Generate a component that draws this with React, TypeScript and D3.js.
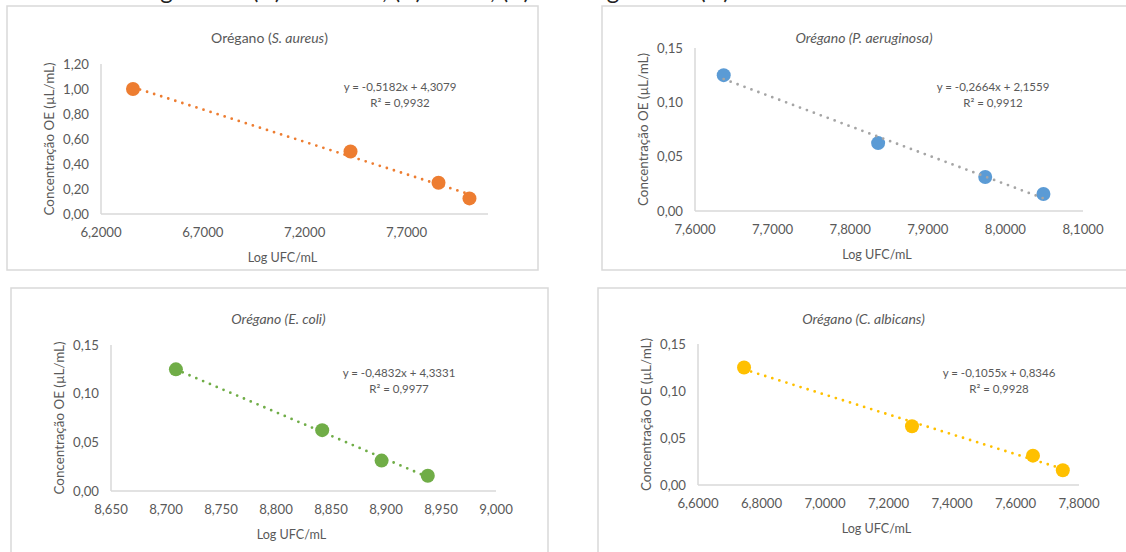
import React from 'react';
import * as d3 from 'd3';

// Log UFC/mL (x) and concentração do óleo essencial (y) per organism
const sAureusLogUfc = [6.357, 7.425, 7.857, 8.009];
const sAureusConc = [1.0, 0.5, 0.25, 0.125];
const pAeruginosaLogUfc = [7.637, 7.836, 7.974, 8.049];
const pAeruginosaConc = [0.125, 0.0625, 0.03125, 0.015625];
const eColiLogUfc = [8.709, 8.842, 8.896, 8.938];
const eColiConc = [0.125, 0.0625, 0.03125, 0.015625];
const cAlbicansLogUfc = [6.745, 7.274, 7.655, 7.749];
const cAlbicansConc = [0.125, 0.0625, 0.03125, 0.015625];

// trendline equations shown on each chart
const slopes = [-0.5182, -0.2664, -0.4832, -0.1055];
const intercepts = [4.3079, 2.1559, 4.3331, 0.8346];
const rSquared = [0.9932, 0.9912, 0.9977, 0.9928];

// axes
const xDomains: [number, number][] = [[6.2, 8.1], [7.6, 8.1], [8.65, 9.0], [6.6, 7.8]];
const xTicksAureus = [6.2, 6.7, 7.2, 7.7];
const xTicksAeruginosa = [7.6, 7.7, 7.8, 7.9, 8.0, 8.1];
const xTicksColi = [8.65, 8.7, 8.75, 8.8, 8.85, 8.9, 8.95, 9.0];
const xTicksAlbicans = [6.6, 6.8, 7.0, 7.2, 7.4, 7.6, 7.8];
const yTicksAureus = [0, 0.2, 0.4, 0.6, 0.8, 1.0, 1.2];
const yTicksSmall = [0, 0.05, 0.1, 0.15];

const species = ['S. aureus', 'P. aeruginosa', 'E. coli', 'C. albicans'];
const caption = 'Figura 1 – Curvas de regressão:';
const captionTail = '(A) S. aureus, (B) E. coli, (C) P. aeruginosa e (D) C. albicans';

const ptBR = d3.formatLocale({ decimal: ',', thousands: '.', grouping: [3], currency: ['R$', ''], minus: '-' });
const f4 = ptBR.format('.4f');
const f3 = ptBR.format('.3f');
const f2 = ptBR.format('.2f');

const FONT = "Lato, 'Open Sans', sans-serif";
const TEXT = '#595959';
const AXIS = '#D9D9D9';

interface PanelProps {
  box: [number, number, number, number];
  plot: { left: number; right: number; top: number; bottom: number };
  xs: number[];
  ys: number[];
  xTicks: number[];
  yTicks: number[];
  xFmt: (n: number) => string;
  idx: number;
  color: string;
  trendColor: string;
  titleItalic: boolean;
  titleY: number;
  eqPos: [number, number];
}

const Panel: React.FC<PanelProps> = ({ box, plot, xs, ys, xTicks, yTicks, xFmt, idx, color, trendColor, titleItalic, titleY, eqPos }) => {
  const x = d3.scaleLinear().domain(xDomains[idx]).range([plot.left, plot.right]);
  const y = d3.scaleLinear().domain([yTicks[0], yTicks[yTicks.length - 1]]).range([plot.bottom, plot.top]);
  const [bx, by, bw, bh] = box;
  const cx = (plot.left + plot.right) / 2;
  const midY = (plot.top + plot.bottom) / 2;

  const x0 = d3.min(xs) as number;
  const x1 = d3.max(xs) as number;
  const trend = d3.line<number>()
    .x(d => x(d))
    .y(d => y(slopes[idx] * d + intercepts[idx]));

  const pts = xs.map((v, i) => ({ x: v, y: ys[i] }));

  return (
    <g>
      <rect x={bx} y={by} width={bw} height={bh} fill="#fff" stroke={AXIS} strokeWidth={1.5} />
      <text x={cx - 25} y={titleY} textAnchor="middle" fontSize={14} fill={TEXT}
        fontStyle={titleItalic ? 'italic' : 'normal'}>
        {titleItalic ? `Orégano (${species[idx]})` : (
          <>Orégano (<tspan fontStyle="italic">{species[idx]}</tspan>)</>
        )}
      </text>
      {/* axes */}
      <line x1={plot.left} x2={plot.left} y1={plot.top} y2={plot.bottom} stroke={AXIS} strokeWidth={1.5} />
      <line x1={plot.left} x2={plot.right} y1={plot.bottom} y2={plot.bottom} stroke={AXIS} strokeWidth={1.5} />
      {yTicks.map(t => (
        <text key={'y' + t} x={plot.left - 12} y={y(t)} dy="0.35em" textAnchor="end" fontSize={13.2} fill={TEXT}>{f2(t)}</text>
      ))}
      {xTicks.map(t => (
        <text key={'x' + t} x={x(t)} y={plot.bottom + 18} dy="0.35em" textAnchor="middle" fontSize={13.2} fill={TEXT}>{xFmt(t)}</text>
      ))}
      <text x={cx - 12} y={plot.bottom + 44} dy="0.35em" textAnchor="middle" fontSize={12.6} fill={TEXT}>Log UFC/mL</text>
      <text transform={`translate(${plot.left - 52},${midY}) rotate(-90)`} dy="0.35em" textAnchor="middle" fontSize={13.4} fill={TEXT}>
        Concentração OE (µL/mL)
      </text>
      {/* markers then dotted trendline on top */}
      {pts.map((p, i) => (
        <circle key={i} cx={x(p.x)} cy={y(p.y)} r={7} fill={color} />
      ))}
      <path d={trend([x0, x1]) || ''} fill="none" stroke={trendColor} strokeWidth={2.8}
        strokeLinecap="round" strokeDasharray="0 7.4" />
      <text x={eqPos[0]} y={eqPos[1]} textAnchor="middle" fontSize={11.5} fill={TEXT}>
        {`y = ${f4(slopes[idx])}x + ${f4(intercepts[idx])}`}
      </text>
      <text x={eqPos[0]} y={eqPos[1] + 16} textAnchor="middle" fontSize={11.5} fill={TEXT}>
        {`R² = ${f4(rSquared[idx])}`}
      </text>
    </g>
  );
};

export default function App() {
  return (
    <svg width={1126} height={552} style={{ position: 'absolute', left: 0, top: 0, fontFamily: FONT }}>
      <rect width={1126} height={552} fill="#fff" />
      <text x={246} y={-1} textAnchor="end" fontSize={24} fill="#222">{caption}</text>
      <text x={252} y={-1} fontSize={24} fill="#222">{captionTail}</text>

      <Panel box={[7, 6, 531, 264]} plot={{ left: 101, right: 488, top: 64, bottom: 214 }}
        xs={sAureusLogUfc} ys={sAureusConc} xTicks={xTicksAureus} yTicks={yTicksAureus} xFmt={f4}
        idx={0} color="#ED7D31" trendColor="#ED7D31" titleItalic={false} titleY={43} eqPos={[400, 91]} />

      <Panel box={[602, 6, 540, 264]} plot={{ left: 695, right: 1083, top: 48, bottom: 211 }}
        xs={pAeruginosaLogUfc} ys={pAeruginosaConc} xTicks={xTicksAeruginosa} yTicks={yTicksSmall} xFmt={f4}
        idx={1} color="#5B9BD5" trendColor="#A5A5A5" titleItalic={true} titleY={43} eqPos={[993, 91]} />

      <Panel box={[11, 288, 537, 280]} plot={{ left: 111, right: 496, top: 345, bottom: 491 }}
        xs={eColiLogUfc} ys={eColiConc} xTicks={xTicksColi} yTicks={yTicksSmall} xFmt={f3}
        idx={2} color="#70AD47" trendColor="#70AD47" titleItalic={true} titleY={324} eqPos={[399, 377]} />

      <Panel box={[598, 288, 540, 280]} plot={{ left: 698, right: 1079, top: 344, bottom: 485 }}
        xs={cAlbicansLogUfc} ys={cAlbicansConc} xTicks={xTicksAlbicans} yTicks={yTicksSmall} xFmt={f4}
        idx={3} color="#FFC000" trendColor="#FFC000" titleItalic={true} titleY={324} eqPos={[999, 377]} />
    </svg>
  );
}
